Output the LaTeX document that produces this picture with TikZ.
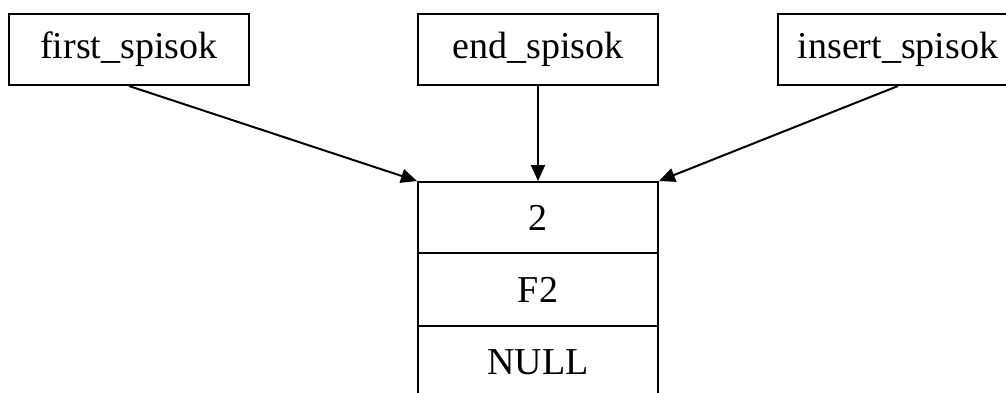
\documentclass[tikz,border=0pt]{standalone}
\usepackage{fontspec}
\setmainfont{Liberation Serif}
\usetikzlibrary{arrows.meta}
\begin{document}
\begin{tikzpicture}[x=1pt,y=-1pt,
  lbl/.style={draw=black,line width=2pt,minimum width=240pt,minimum height=71pt,inner sep=0pt,anchor=north west,font=\fontsize{38}{44}\selectfont},
  cell/.style={draw=black,line width=2pt,minimum width=240pt,inner sep=0pt,anchor=north west,font=\fontsize{38}{44}\selectfont},
  arr/.style={line width=2pt,-{Triangle[length=16pt,width=14pt]}}]
\useasboundingbox (0,0) rectangle (1006,392);
\clip (0,0) rectangle (1006,392);
\fill[white] (0,0) rectangle (1006,392);
\node[lbl] (first) at (8,13) {first\_spisok};
\node[lbl] (end) at (417,13) {end\_spisok};
\node[lbl] (ins) at (777,13) {insert\_spisok};
\node[cell,minimum height=71pt] (c1) at (417,181) {2};
\node[cell,minimum height=73pt] (c2) at (417,252) {F2};
\node[cell,minimum height=72pt] (c3) at (417,325) {NULL};
\draw[arr] (first.south) -- (c1.north west);
\draw[arr] (end.south) -- (c1.north);
\draw[arr] (ins.south) -- (c1.north east);
\end{tikzpicture}
\end{document}
